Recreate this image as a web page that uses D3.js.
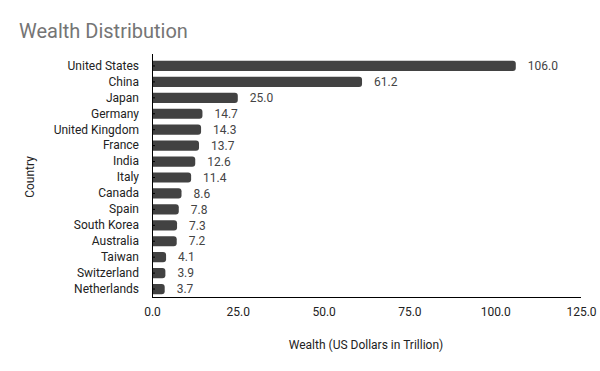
<!DOCTYPE html>
<html>
<head>
<meta charset="utf-8">
<script src="https://cdn.jsdelivr.net/npm/d3@7"></script>
<style>
  body { margin: 0; background: #fff; }
  text { font-family: Roboto, sans-serif; }
</style>
</head>
<body>
<div id="vis"></div>
<script>
var countries = ['United States', 'China', 'Japan', 'Germany', 'United Kingdom', 'France', 'India',
                 'Italy', 'Canada', 'Spain', 'South Korea', 'Australia', 'Taiwan', 'Switzerland', 'Netherlands'];
var wealth = [106.0, 61.2, 25.0, 14.7, 14.3, 13.7, 12.6, 11.4, 8.6, 7.8, 7.3, 7.2, 4.1, 3.9, 3.7];
var xTicks = [0, 25, 50, 75, 100, 125];

var width = 600;
var height = 371;
var margin = { top: 58, right: 19, bottom: 74, left: 152 };
var drawWidth = width - margin.left - margin.right;
var drawHeight = height - margin.top - margin.bottom;

var data = countries.map(function(c, i) { return { country: c, value: wealth[i] }; });

var svg = d3.select('#vis')
            .append('svg')
            .attr('width', width)
            .attr('height', height);

svg.append('text')
    .attr('x', 19)
    .attr('y', 38)
    .attr('fill', '#757575')
    .style('font-size', '20px')
    .text('Wealth Distribution');

var g = svg.append('g')
            .attr('transform', 'translate(' + margin.left + ', ' + margin.top + ')');

var xScale = d3.scaleLinear()
                .domain([0, 125])
                .range([0, drawWidth]);
var yScale = d3.scaleBand()
                .domain(countries)
                .range([0, drawHeight])
                .paddingInner(0.36)
                .paddingOuter(0.18);

// bars, rounded at the right end
g.selectAll('path.bar')
    .data(data)
    .enter().append('path')
    .attr('class', 'bar')
    .attr('fill', '#424242')
    .attr('d', function(d) {
        var x1 = xScale(d.value), y0 = yScale(d.country), h = yScale.bandwidth();
        var r = Math.min(3, x1 / 2);
        return 'M0,' + y0 + 'H' + (x1 - r) + 'Q' + x1 + ',' + y0 + ' ' + x1 + ',' + (y0 + r) +
               'V' + (y0 + h - r) + 'Q' + x1 + ',' + (y0 + h) + ' ' + (x1 - r) + ',' + (y0 + h) + 'H0Z';
    });

g.selectAll('text.val')
    .data(data)
    .enter().append('text')
    .attr('class', 'val')
    .attr('x', function(d) { return xScale(d.value) + 12; })
    .attr('y', function(d) { return yScale(d.country) + yScale.bandwidth() / 2; })
    .attr('dy', '0.35em')
    .attr('fill', '#444')
    .style('font-size', '12px')
    .text(function(d) { return d.value.toFixed(1); });

// x axis
var xAxis = d3.axisBottom(xScale)
                .tickValues(xTicks)
                .tickSize(0)
                .tickPadding(10)
                .tickFormat(d3.format('.1f'));
var xAxisG = g.append('g')
                .attr('transform', 'translate(0, ' + drawHeight + ')')
                .call(xAxis);
xAxisG.select('.domain').attr('stroke', '#000').attr('d', 'M0,0.5H' + drawWidth);
xAxisG.selectAll('text').attr('fill', '#222').style('font-size', '12px');

// y axis
var yAxis = d3.axisLeft(yScale).tickSize(6).tickPadding(7);
var yAxisG = g.append('g').call(yAxis);
yAxisG.select('.domain').remove();
yAxisG.selectAll('.tick line').attr('x2', 3).attr('stroke', '#000');
yAxisG.selectAll('text').attr('fill', '#222').style('font-size', '12px');
g.append('line')
    .attr('x1', 0.5).attr('x2', 0.5)
    .attr('y1', -4).attr('y2', drawHeight + 1)
    .attr('stroke', '#000');

svg.append('text')
    .attr('transform', 'translate(' + 34 + ', ' + 177 + ') rotate(-90)')
    .attr('text-anchor', 'middle')
    .attr('fill', '#222')
    .style('font-size', '12px')
    .text('Country');

svg.append('text')
    .attr('x', 366)
    .attr('y', 349)
    .attr('text-anchor', 'middle')
    .attr('fill', '#222')
    .style('font-size', '12px')
    .text('Wealth (US Dollars in Trillion)');
</script>
</body>
</html>
